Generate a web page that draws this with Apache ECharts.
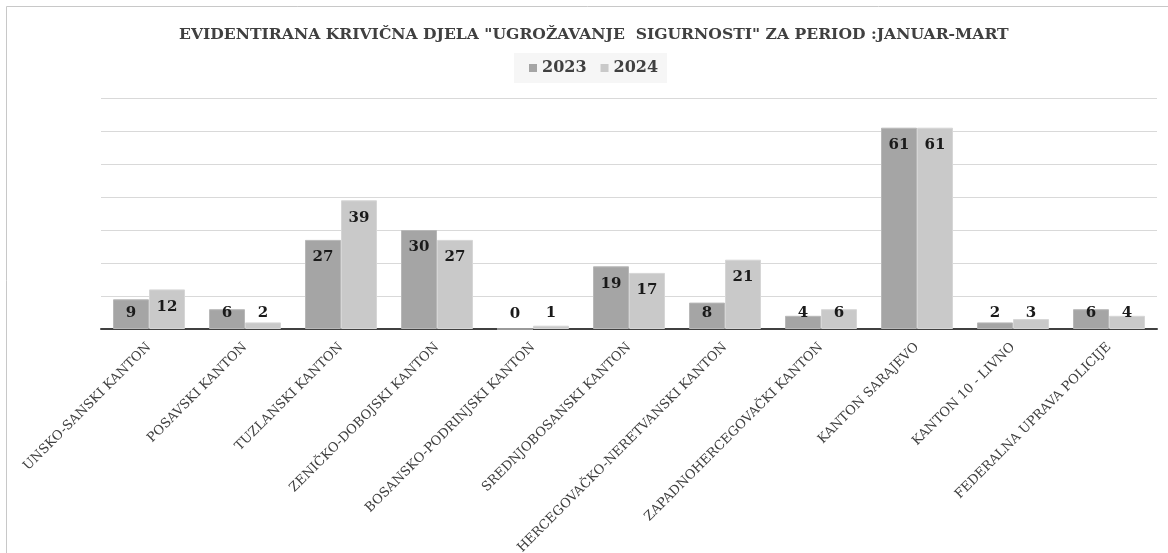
<!DOCTYPE html>
<html>
<head>
<meta charset="utf-8">
<title>Ugrožavanje sigurnosti</title>
<script src="https://cdn.jsdelivr.net/npm/echarts@6/dist/echarts.min.js"></script>
<style>
    html, body { margin: 0; padding: 0; background: #fff; }
    #bardiv { width: 1168px; height: 553px; }
</style>
</head>
<body>
<div id="bardiv"></div>
<script>
var kantoni = ['UNSKO-SANSKI KANTON', 'POSAVSKI KANTON', 'TUZLANSKI KANTON', 'ZENIČKO-DOBOJSKI KANTON',
    'BOSANSKO-PODRINJSKI KANTON', 'SREDNJOBOSANSKI KANTON', 'HERCEGOVAČKO-NERETVANSKI KANTON',
    'ZAPADNOHERCEGOVAČKI KANTON', 'KANTON SARAJEVO', 'KANTON 10 - LIVNO', 'FEDERALNA UPRAVA POLICIJE'];
var god2023 = [9, 6, 27, 30, 0, 19, 8, 4, 61, 2, 6];
var god2024 = [12, 2, 39, 27, 1, 17, 21, 6, 61, 3, 4];
var yTicks = [0, 10, 20, 30, 40, 50, 60, 70];

var serif = 'DejaVu Serif';

// small bars: label sits above the axis instead of inside the top
function bar_data(values) {
    var out = [];
    for (var i = 0; i < values.length; i++) {
        if (values[i] < 10) {
            out.push({ value: values[i], label: { position: 'insideBottom', distance: 8 } });
        } else {
            out.push({ value: values[i], label: { position: 'insideTop', distance: 10 } });
        }
    }
    return out;
}

function add_bar() {
    var myChart = echarts.init(document.getElementById("bardiv"));
    var labelStyle = {
        show: true,
        color: '#1a1a1a',
        fontFamily: serif,
        fontWeight: 'bold',
        fontSize: 15
    };
    option = {
        backgroundColor: '#fff',
        animation: false,
        graphic: [{
            type: 'rect',
            shape: { x: 6.5, y: 6.5, width: 1180, height: 570 },
            style: { fill: 'none', stroke: '#c8c8c8', lineWidth: 1 },
            silent: true
        }],
        title: {
            text: 'EVIDENTIRANA KRIVIČNA DJELA "UGROŽAVANJE  SIGURNOSTI" ZA PERIOD :JANUAR-MART',
            left: 174,
            top: 22,
            textStyle: {
                color: '#404040',
                fontFamily: serif,
                fontWeight: 'bold',
                fontSize: 15.6
            }
        },
        legend: {
            data: ['2023', '2024'],
            left: 514,
            top: 53,
            icon: 'rect',
            itemWidth: 8,
            itemHeight: 8,
            itemGap: 14,
            padding: [7, 9, 7, 15],
            backgroundColor: '#f6f6f6',
            itemStyle: { borderWidth: 0 },
            textStyle: {
                color: '#404040',
                fontFamily: serif,
                fontWeight: 'bold',
                fontSize: 16
            }
        },
        grid: {
            left: 101,
            right: 11,
            top: 98,
            bottom: 224,
            containLabel: false,
            outerBoundsMode: 'none'
        },
        xAxis: {
            type: 'category',
            data: kantoni,
            axisLine: { show: true, lineStyle: { color: '#404040', width: 2 } },
            axisTick: { show: false },
            axisLabel: {
                interval: 0,
                rotate: 45,
                margin: 16,
                color: '#404040',
                fontFamily: serif,
                fontSize: 13
            }
        },
        yAxis: {
            type: 'value',
            min: yTicks[0],
            max: yTicks[yTicks.length - 1],
            interval: 10,
            axisLine: { show: false },
            axisTick: { show: false },
            axisLabel: { show: false },
            splitLine: { lineStyle: { color: '#d9d9d9', width: 1 } }
        },
        series: [
            {
                name: '2023',
                type: 'bar',
                barGap: '0%',
                barCategoryGap: '25%',
                itemStyle: { color: '#a5a5a5', borderColor: '#b8b8b8', borderWidth: 1 },
                label: labelStyle,
                data: bar_data(god2023)
            },
            {
                name: '2024',
                type: 'bar',
                barGap: '0%',
                barCategoryGap: '25%',
                itemStyle: { color: '#c9c9c9', borderColor: '#d6d6d6', borderWidth: 1 },
                label: labelStyle,
                data: bar_data(god2024)
            }
        ]
    };

    myChart.setOption(option);
}

add_bar();
</script>
</body>
</html>
